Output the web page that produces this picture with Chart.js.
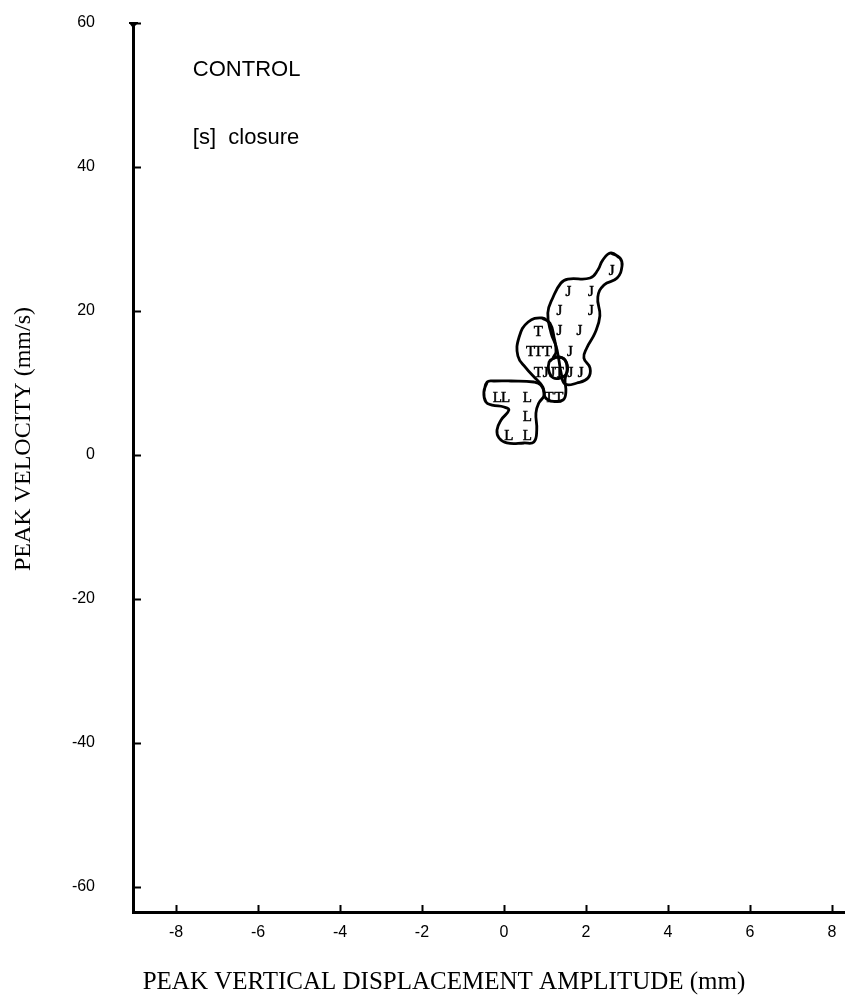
<!DOCTYPE html>
<html><head><meta charset="utf-8">
<script src="https://cdn.jsdelivr.net/npm/chart.js@4/dist/chart.umd.min.js"></script>
<style>html,body{margin:0;padding:0;background:#fff;}#wrap{width:845px;height:999px;position:relative;}canvas{display:block;}</style>
</head><body><div id="wrap"><canvas id="c" width="845" height="999" style="width:845px;height:999px"></canvas></div>
<script>
// ---- data ----
const xTickValues = [-8, -6, -4, -2, 0, 2, 4, 6, 8];
const yTickValues = [-60, -40, -20, 0, 20, 40, 60];
const xRange = [-9.05, 8.32];
const yRange = [-63.47, 60];

const jX = [2.63, 1.57, 2.12, 1.35, 2.12, 1.35, 1.84, 1.61, 1.02, 1.18, 1.62, 1.87];
const jY = [25.5, 22.7, 22.7, 20.0, 20.0, 17.2, 17.2, 14.3, 11.4, 11.4, 11.4, 11.4];
const tX = [0.84, 0.65, 0.84, 1.06, 0.84, 1.35, 1.10, 1.34];
const tY = [17.1, 14.3, 14.3, 14.3, 11.4, 11.4, 7.9, 7.9];
const lX = [-0.16, 0.04, 0.57, 0.57, 0.12, 0.57];
const lY = [7.9, 7.9, 7.9, 5.3, 2.6, 2.6];

// hand-drawn enclosures (data units)
const jOutlineX = [2.61, 2.83, 2.88, 2.76, 2.44, 2.29, 2.34, 2.22, 2.02, 1.95, 2.10, 2.05, 1.78, 1.49, 1.39, 1.34, 1.27, 1.15, 1.07, 1.20, 1.39, 1.56, 2.10, 2.29, 2.41];
const jOutlineY = [28.06, 27.36, 26.25, 24.58, 23.61, 21.94, 19.31, 16.94, 14.86, 13.47, 12.08, 10.69, 10.0, 9.86, 11.53, 13.19, 15.14, 16.94, 19.72, 21.94, 23.89, 24.44, 24.58, 25.69, 27.08];
const tOutlineX = [0.93, 1.12, 1.22, 1.27, 1.20, 1.32, 1.49, 1.54, 1.49, 1.51, 1.44, 1.15, 1.00, 0.95, 0.76, 0.54, 0.34, 0.37, 0.59];
const tOutlineY = [19.03, 18.33, 16.39, 14.31, 13.47, 13.61, 13.19, 11.81, 10.42, 8.75, 7.64, 7.5, 8.06, 9.44, 10.69, 12.08, 13.75, 16.39, 18.47];
const loopX = [1.10, 1.27, 1.49, 1.54, 1.37, 1.15];
const loopY = [12.92, 13.61, 13.19, 11.53, 10.69, 10.97];
const lOutlineX = [-0.41, -0.49, -0.44, -0.29, 0.0, 0.12, -0.07, -0.17, -0.12, 0.07, 0.49, 0.73, 0.80, 0.78, 0.85, 0.98, 0.90, 0.73, 0.17, -0.24];
const lOutlineY = [10.14, 8.75, 7.36, 6.94, 6.67, 6.25, 4.86, 3.47, 2.36, 1.67, 1.67, 1.81, 3.47, 5.83, 7.22, 8.33, 9.72, 10.14, 10.28, 10.28];

const titleText = 'CONTROL';
const subtitleText = '[s]  closure';
const titlePos = [-7.59, 53.5];
const subtitlePos = [-7.59, 44.0];
const xAxisTitle = 'PEAK VERTICAL DISPLACEMENT AMPLITUDE (mm)';
const yAxisTitle = 'PEAK VELOCITY (mm/s)';

// ---- build datasets ----
function pts(xs, ys) { return xs.map((x, i) => ({x: x, y: ys[i]})); }
function closed(xs, ys) { const p = pts(xs, ys); return p.concat([p[0], p[1]]); }

function outline(xs, ys) {
  return { type: 'line', data: closed(xs, ys), borderColor: '#000', borderWidth: 2.8,
           tension: 0.45, pointRadius: 0, fill: false, showLine: true };
}
function letters(xs, ys, ch) {
  return { type: 'scatter', data: pts(xs, ys), letter: ch, pointRadius: 0, showLine: false };
}

const letterPlugin = {
  id: 'letters',
  afterDatasetsDraw(chart) {
    const ctx = chart.ctx;
    ctx.save();
    ctx.fillStyle = '#000';
    ctx.strokeStyle = '#000';
    ctx.lineWidth = 0.5;
    ctx.font = '15px "Liberation Serif"';
    ctx.textAlign = 'center';
    ctx.textBaseline = 'middle';
    chart.data.datasets.forEach((ds, i) => {
      if (!ds.letter) return;
      chart.getDatasetMeta(i).data.forEach(el => { ctx.fillText(ds.letter, el.x, el.y); ctx.strokeText(ds.letter, el.x, el.y); });
    });
    ctx.restore();
  }
};

const decorPlugin = {
  id: 'decor',
  afterDraw(chart) {
    const {ctx, chartArea: a, scales: {x, y}} = chart;
    ctx.save();
    ctx.strokeStyle = '#000';
    ctx.lineWidth = 2;
    ctx.beginPath();
    yTickValues.forEach(v => { const py = Math.round(y.getPixelForValue(v)) + 0.5; ctx.moveTo(a.left, py); ctx.lineTo(a.left + 8, py); });
    xTickValues.forEach(v => { const px = Math.round(x.getPixelForValue(v)) + 0.5; ctx.moveTo(px, a.bottom); ctx.lineTo(px, a.bottom - 7); });
    ctx.stroke();
    // small arrow head at the top of the y axis
    const ty = y.getPixelForValue(yRange[1]);
    ctx.fillStyle = '#000';
    ctx.beginPath();
    ctx.moveTo(a.left - 4, ty); ctx.lineTo(a.left + 5, ty); ctx.lineTo(a.left, ty + 5); ctx.closePath(); ctx.fill();
    ctx.fillRect(a.left - 4, ty - 1, 9, 2);

    // in-plot labels
    ctx.textAlign = 'left';
    ctx.textBaseline = 'middle';
    ctx.font = '22px "Liberation Sans"';
    ctx.fillText(titleText, x.getPixelForValue(titlePos[0]), y.getPixelForValue(titlePos[1]));
    ctx.fillText(subtitleText, x.getPixelForValue(subtitlePos[0]), y.getPixelForValue(subtitlePos[1]));

    // axis titles
    ctx.textAlign = 'center';
    ctx.font = '25px "Liberation Serif"';
    ctx.fillText(xAxisTitle, 444, 982);
    ctx.font = '24px "Liberation Serif"';
    ctx.save();
    ctx.translate(24, 439);
    ctx.rotate(-Math.PI / 2);
    ctx.fillText(yAxisTitle, 0, 0);
    ctx.restore();
    ctx.restore();
  }
};

function fixAxis(size) {
  return function (s) {
    if (s.isHorizontal()) s.height = size; else s.width = size;
    s.paddingLeft = 0; s.paddingRight = 0; s.paddingTop = 0; s.paddingBottom = 0;
  };
}

new Chart(document.getElementById('c'), {
  type: 'scatter',
  data: {
    datasets: [
      outline(jOutlineX, jOutlineY),
      outline(tOutlineX, tOutlineY),
      outline(loopX, loopY),
      outline(lOutlineX, lOutlineY),
      letters(jX, jY, 'J'),
      letters(tX, tY, 'T'),
      letters(lX, lY, 'L')
    ]
  },
  options: {
    responsive: false,
    animation: false,
    devicePixelRatio: 1,
    layout: { padding: { left: 0, right: 0, top: 23, bottom: 0 } },
    plugins: { legend: { display: false }, tooltip: { enabled: false }, title: { display: false } },
    scales: {
      x: {
        type: 'linear', position: 'bottom', min: xRange[0], max: xRange[1],
        grid: { display: false, drawTicks: false },
        border: { display: true, color: '#000', width: 3 },
        afterBuildTicks: s => { s.ticks = xTickValues.map(v => ({value: v})); },
        afterFit: fixAxis(87),
        ticks: { color: '#000', font: { family: 'Liberation Sans', size: 16 }, padding: 11,
                 maxRotation: 0, autoSkip: false, callback: v => String(v) }
      },
      y: {
        type: 'linear', position: 'left', min: yRange[0], max: yRange[1],
        grid: { display: false, drawTicks: false },
        border: { display: true, color: '#000', width: 3 },
        afterBuildTicks: s => { s.ticks = yTickValues.map(v => ({value: v})); },
        afterFit: fixAxis(133),
        ticks: { color: '#000', font: { family: 'Liberation Sans', size: 16 }, padding: 38,
                 autoSkip: false, callback: v => String(v) }
      }
    }
  },
  plugins: [letterPlugin, decorPlugin]
});
</script>
</body></html>
